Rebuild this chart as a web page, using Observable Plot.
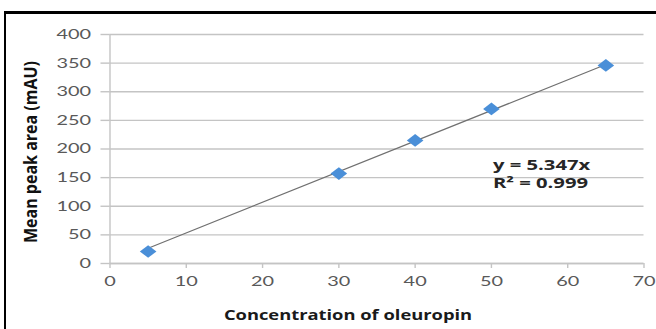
<!DOCTYPE html>
<html>
<head>
<meta charset="utf-8">
<script src="https://cdn.jsdelivr.net/npm/d3@7"></script>
<script src="https://cdn.jsdelivr.net/npm/@observablehq/plot@0.6"></script>
<style>
  html, body { margin: 0; padding: 0; background: #fff; }
  #wrap { position: relative; width: 656px; height: 329px; overflow: hidden; }
  #frame { position: absolute; left: 4px; top: 11px; width: 700px; height: 400px;
           border-left: 2px solid #000; border-top: 3px solid #000; box-sizing: border-box; pointer-events: none; }
</style>
</head>
<body>
<div id="wrap"><div id="frame"></div></div>
<script>
const concentration = [5, 30, 40, 50, 65];
const peakArea = [21, 157, 215, 270, 346];
const slope = 5.347;
const xTicks = [0, 10, 20, 30, 40, 50, 60, 70];
const yTicks = [0, 50, 100, 150, 200, 250, 300, 350, 400];
const equationLines = ["y = 5.347x", "R² = 0.999"];

const points = concentration.map((c, i) => ({x: c, y: peakArea[i]}));
const trend = [d3.min(concentration), d3.max(concentration)].map(x => ({x, y: slope * x}));
const labelAnchor = [{x: 50.2, y: 171.5, t: equationLines[0]}, {x: 50.2, y: 140, t: equationLines[1]}];

const tickFont = "Lato, 'Open Sans', sans-serif";
const boldFont = "'Open Sans', 'Liberation Sans', sans-serif";

const flatDiamond = {
  draw(context, size) {
    const r = Math.sqrt(size / 2);
    const w = r * 1.25, h = r * 0.95;
    context.moveTo(0, -h);
    context.lineTo(w, 0);
    context.lineTo(0, h);
    context.lineTo(-w, 0);
    context.closePath();
  }
};

const chart = Plot.plot({
  width: 656,
  height: 329,
  marginLeft: 109.5,
  marginRight: 12.5,
  marginTop: 34,
  marginBottom: 66,
  style: {fontFamily: tickFont, background: "transparent"},
  x: {domain: [0, 70]},
  y: {domain: [0, 400]},
  marks: [
    Plot.gridY(yTicks, {stroke: "#c4c4c4", strokeOpacity: 1, strokeWidth: 1.4}),
    Plot.axisY(yTicks, {tickSize: 9, stroke: "#c4c4c4", strokeWidth: 1.4, tickPadding: 10, fontSize: 14, fill: "#595959", label: null}),
    Plot.ruleX([0], {stroke: "#c4c4c4", strokeWidth: 1.4}),
    Plot.ruleY([0], {stroke: "#c4c4c4", strokeWidth: 1.4}),
    Plot.axisX(xTicks, {tickSize: 5, stroke: "#c4c4c4", strokeWidth: 1.4, tickPadding: 8, fontSize: 14, fill: "#595959", label: null}),
    Plot.line(trend, {x: "x", y: "y", stroke: "#707070", strokeWidth: 1.2}),
    Plot.dot(points, {x: "x", y: "y", symbol: flatDiamond, r: 5.3, fill: "#4a8fd8", stroke: "none"}),
    Plot.text(labelAnchor, {ariaLabel: () => "equation", x: "x", y: "y", text: "t", textAnchor: "start", fontFamily: boldFont, fontSize: 13.5, fontWeight: "bold", fill: "#262626"}),
    Plot.text(["Concentration of oleuropin"], {ariaLabel: () => "xtitle", frameAnchor: "bottom", textAnchor: "middle", lineAnchor: "middle", dx: -29, dy: 52, fontFamily: boldFont, fontSize: 14, fontWeight: "bold", fill: "#1a1a1a"}),
    Plot.text(["Mean peak area (mAU)"], {ariaLabel: () => "ytitle", frameAnchor: "left", textAnchor: "middle", dx: -79, dy: 3, rotate: -90, fontFamily: boldFont, fontSize: 16, fontWeight: "bold", fill: "#111"})
  ]
});

// The reference's text is horizontally stretched; scale each text about its anchor.
const stretches = {
  "y-axis tick label": 1.42,
  "x-axis tick label": 1.42,
  "equation": 1.5,
  "xtitle": 1.31,
  "ytitle": 1.12
};
const done = new Set();
for (const [label, s] of Object.entries(stretches)) {
  chart.querySelectorAll(`g[aria-label="${label}"] text, text[aria-label="${label}"]`).forEach(t => {
    if (done.has(t)) return;
    done.add(t);
    const tr = t.getAttribute("transform") || "";
    const rotated = /rotate\(/.test(tr);
    t.setAttribute("transform", tr + (rotated ? ` scale(1,${s})` : ` scale(${s},1)`));
  });
}

chart.style.position = "absolute";
chart.style.left = "0";
chart.style.top = "0";
document.getElementById("wrap").prepend(chart);
</script>
</body>
</html>
